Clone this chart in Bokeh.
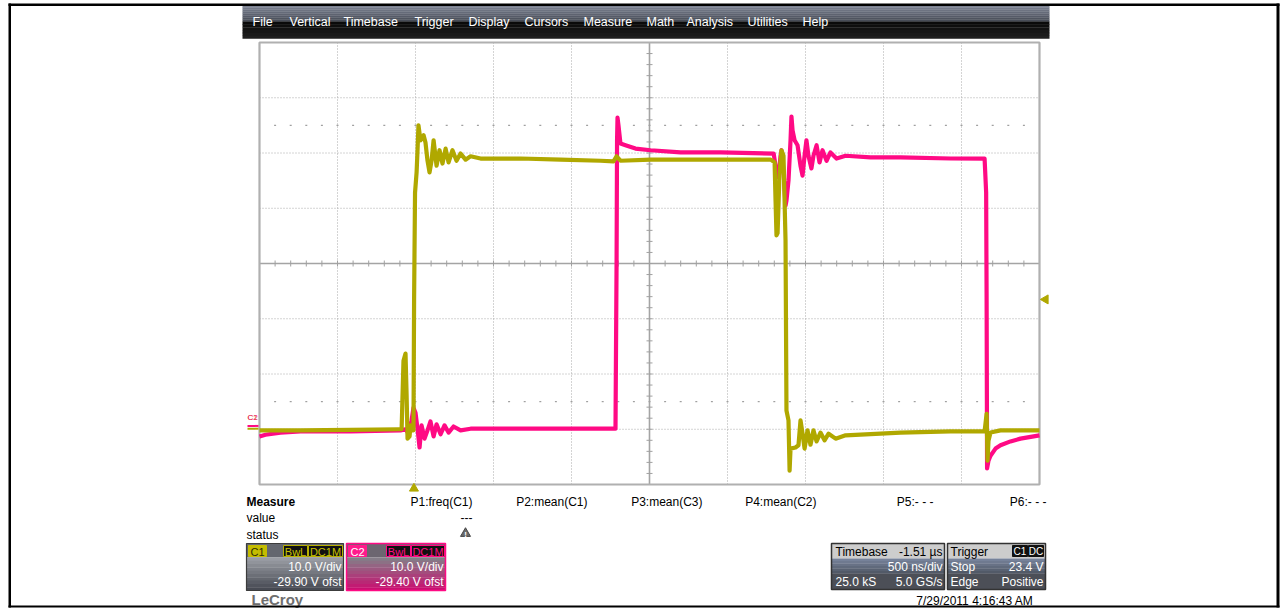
import math
from bokeh.plotting import figure
from bokeh.models import Range1d
from bokeh.embed import file_html
from bokeh.resources import INLINE
from bokeh.core.properties import value

# ---------------- data ----------------
# C1 (yellow) trace: time in ns relative to trigger, volts
C1_TIME_NS = [-990, -727, -406, -99, -79, -67, -54, -47, -41, -28,
              -22, -12, -3, 1, 7, 17, 23, 29, 42, 62,
              74, 87, 100, 113, 126, 145, 164, 183, 203, 222,
              247, 273, 299, 331, 363, 427, 683, 940, 1196, 1279,
              1299, 1324, 1517, 1838, 2287, 2312, 2318, 2324, 2331, 2343,
              2356, 2369, 2382, 2388, 2401, 2408, 2414, 2446, 2465, 2478,
              2491, 2504, 2523, 2542, 2561, 2581, 2606, 2632, 2658, 2703,
              2767, 2927, 3119, 3440, 3658, 3671, 3677, 3683, 3696, 3760,
              4010]
C1_VOLTS = [-0.3, -0.3, -0.2, -0.1, -0.1, 12.3, 13.6, 6.0, -1.8, -1.4,
            0.6, -0.3, -0.3, 23.4, 42.7, 46.4, 50.4, 54.9, 52.2, 53.1,
            51.8, 48.5, 46.4, 48.5, 52.2, 47.6, 50.4, 48.0, 50.7, 48.2,
            50.4, 48.5, 49.8, 48.7, 49.3, 48.9, 48.9, 48.7, 48.5, 48.4,
            49.3, 48.5, 48.7, 48.7, 48.7, 48.2, 41.3, 35.0, 35.4, 45.8,
            50.4, 49.4, 34.1, 3.3, 1.5, -7.6, -3.6, -3.4, -3.0, 1.5,
            -0.9, -3.6, -0.3, -2.9, -0.3, -2.3, -0.7, -2.1, -0.9, -1.8,
            -1.2, -1.0, -0.7, -0.5, -0.5, 2.7, -5.8, -2.2, -0.7, -0.3,
            -0.3]

# C2 (magenta) trace
C2_TIME_NS = [-990, -952, -856, -727, -406, -86, -54, -35, -15, -3,
              10, 23, 36, 49, 68, 87, 106, 126, 145, 171,
              196, 222, 254, 299, 363, 683, 1068, 1279, 1292, 1299,
              1302, 1305, 1311, 1324, 1356, 1420, 1517, 1709, 1966, 2306,
              2318, 2337, 2350, 2356, 2369, 2382, 2388, 2401, 2414, 2420,
              2427, 2440, 2459, 2478, 2491, 2504, 2516, 2529, 2548, 2561,
              2581, 2600, 2619, 2645, 2670, 2709, 2767, 2927, 3119, 3440,
              3658, 3668, 3671, 3674, 3683, 3696, 3728, 3760, 3824, 3888,
              4010]
C2_VOLTS = [-1.9, -1.6, -1.2, -1.0, -1.0, -0.8, -0.6, -1.4, 1.0, 3.3,
            2.4, -0.5, -3.9, 0.1, -2.3, -0.8, 0.8, -1.9, 0.3, -1.5,
            0.1, -1.2, -0.1, -0.8, -0.5, -0.5, -0.5, -0.5, -0.5, 29.9,
            51.7, 55.8, 54.4, 51.1, 50.8, 50.2, 49.9, 49.5, 49.5, 49.3,
            47.1, 45.0, 48.9, 49.9, 46.2, 39.9, 40.8, 44.4, 51.7, 56.0,
            53.5, 51.7, 50.8, 47.1, 45.3, 48.9, 51.7, 48.9, 46.6, 48.9,
            50.8, 47.7, 49.9, 48.0, 49.5, 48.4, 48.9, 48.6, 48.6, 48.4,
            48.4, 42.3, 22.7, -7.7, -6.3, -5.4, -4.1, -3.5, -2.8, -2.3,
            -1.7]

MENU_ITEMS = ["File", "Vertical", "Timebase", "Trigger", "Display", "Cursors",
              "Measure", "Math", "Analysis", "Utilities", "Help"]
MEASURE_PARAMS = ["P1:freq(C1)", "P2:mean(C1)", "P3:mean(C3)", "P4:mean(C2)",
                  "P5:- - -", "P6:- - -"]
MEASURE_ROWS = ["value", "status"]

TIMEBASE_NS_PER_DIV = 500.0
TRIGGER_DELAY_NS = -1510.0
TRIGGER_LEVEL_V = 23.4
C1_V_PER_DIV, C1_OFFSET_V = 10.0, -29.90
C2_V_PER_DIV, C2_OFFSET_V = 10.0, -29.40

C1_TEXT = ["10.0 V/div", "-29.90 V ofst"]
C2_TEXT = ["10.0 V/div", "-29.40 V ofst"]
TIMEBASE_TEXT = ["Timebase", "-1.51 µs", "500 ns/div", "25.0 kS", "5.0 GS/s"]
TRIGGER_TEXT = ["Trigger", "Stop", "23.4 V", "Edge", "Positive"]
TIMESTAMP = "7/29/2011 4:16:43 AM"

# ---------------- layout (picture pixels) ----------------
W, H = 1280, 608
PX0, PY0 = 0, 0
GX0, GX1, GY0, GY1 = 259.0, 1039.0, 42.0, 484.0
DX = (GX1 - GX0) / 10.0
DY = (GY1 - GY0) / 8.0
GXC, GYC = (GX0 + GX1) / 2, (GY0 + GY1) / 2

FONT = value("Liberation Sans")
YEL = "#B0A800"
PINK = "#FF0A84"

p = figure(width=W, height=H, output_backend="svg", toolbar_location=None,
           x_axis_type=None, y_axis_type=None, min_border=0,
           x_range=Range1d(PX0, PX0 + W), y_range=Range1d(PY0 + H, PY0))
p.outline_line_color = None
p.background_fill_color = "white"
p.border_fill_color = "white"

# time / voltage scales mapped onto the graticule
ns_per_px = TIMEBASE_NS_PER_DIV / DX
t_center = -TRIGGER_DELAY_NS
p.extra_x_ranges = {"t": Range1d(t_center + (PX0 - GXC) * ns_per_px,
                                 t_center + (PX0 + W - GXC) * ns_per_px)}
def vrange(vdiv, ofs):
    vpp = vdiv / DY
    c = -ofs
    return Range1d(c - (PY0 + H - GYC) * vpp, c + (GYC - PY0) * vpp)
p.extra_y_ranges = {"c1": vrange(C1_V_PER_DIV, C1_OFFSET_V),
                    "c2": vrange(C2_V_PER_DIV, C2_OFFSET_V)}


def hexmix(c0, c1, f):
    a = [int(c0[i:i + 2], 16) for i in (1, 3, 5)]
    b = [int(c1[i:i + 2], 16) for i in (1, 3, 5)]
    return "#%02x%02x%02x" % tuple(int(round(a[k] + (b[k] - a[k]) * f)) for k in range(3))


def vgrad(x0, x1, y0, y1, c0, c1, n=10):
    h = (y1 - y0) / n
    tops = [y0 + i * h for i in range(n)]
    p.quad(left=[x0] * n, right=[x1] * n, top=tops, bottom=[t + h + 0.3 for t in tops],
           fill_color=[hexmix(c0, c1, i / max(n - 1, 1)) for i in range(n)], line_color=None)


def txt(xs, ys, texts, color="black", size="12px", align="left", style="normal"):
    p.text(x=xs, y=ys, text=texts, text_font=FONT, text_font_size=size,
           text_color=color, text_align=align, text_baseline="middle", text_font_style=style)


# ---------------- menu bar ----------------
vgrad(242, 1049, 5, 21, "#7c8292", "#474c57", 8)
vgrad(242, 1049, 21, 38, "#0a0a0a", "#1f1f1f", 6)
txt([252, 289, 343, 414, 468, 524, 583, 646, 686, 747, 802], [21] * 11, MENU_ITEMS,
    color="white", size="12.5px")

# ---------------- graticule ----------------
vx = [GX0 + i * DX for i in range(1, 10) if i != 5]
p.segment(x0=vx, x1=vx, y0=[GY0] * len(vx), y1=[GY1] * len(vx),
          line_color="#a8a8a8", line_width=1, line_dash="1 2")
hy = [GY0 + j * DY for j in range(1, 8) if j != 4]
p.segment(x0=[GX0] * len(hy), x1=[GX1] * len(hy), y0=hy, y1=hy,
          line_color="#a8a8a8", line_width=1, line_dash="1 2")
# centre cross
p.segment(x0=[GXC, GX0], x1=[GXC, GX1], y0=[GY0, GYC], y1=[GY1, GYC],
          line_color="#a4a4a4", line_width=1.6)
tx = [GX0 + k * DX / 5 for k in range(1, 50)]
p.segment(x0=tx, x1=tx, y0=[GYC - 3] * len(tx), y1=[GYC + 3] * len(tx),
          line_color="#a0a0a0", line_width=1)
ty = [GY0 + k * DY / 5 for k in range(1, 40)]
p.segment(x0=[GXC - 3] * len(ty), x1=[GXC + 3] * len(ty), y0=ty, y1=ty,
          line_color="#a0a0a0", line_width=1)
# dotted rows at +/- 2.5 div
for yy in (GYC - 2.5 * DY, GYC + 2.5 * DY):
    p.segment(x0=[x - 1 for x in tx], x1=[x + 1 for x in tx], y0=[yy] * len(tx), y1=[yy] * len(tx),
              line_color="#a0a0a0", line_width=1.2)
# border
p.quad(left=[GX0], right=[GX1], top=[GY0], bottom=[GY1], fill_color=None,
       line_color="#b0b0b0", line_width=2.2)

# ---------------- traces ----------------
p.line(C2_TIME_NS, C2_VOLTS, x_range_name="t", y_range_name="c2",
       line_color=PINK, line_width=4.2, line_join="round")
p.line(C1_TIME_NS, C1_VOLTS, x_range_name="t", y_range_name="c1",
       line_color=YEL, line_width=4.2, line_join="round")

# ground markers at left
p.segment(x0=[247], x1=[258], y0=[0], y1=[0], y_range_name="c2", line_color=PINK, line_width=2)
p.segment(x0=[247], x1=[258], y0=[0], y1=[0], y_range_name="c1", line_color=YEL, line_width=2)
txt([247], [417], ["C1"], color=YEL, size="8px")
txt([247], [417], ["C2"], color=PINK, size="8px")
# trigger position & level markers
p.scatter(x=[0], y=[GY1 + 4], x_range_name="t", marker="triangle", size=9,
          fill_color=YEL, line_color=YEL)
p.scatter(x=[GX1 + 6], y=[TRIGGER_LEVEL_V], y_range_name="c1", marker="triangle",
          angle=math.pi / 2, size=9, fill_color=YEL, line_color=YEL)

# ---------------- measure table ----------------
txt([246], [501], ["Measure"], style="bold")
txt([246, 246], [517, 534], MEASURE_ROWS)
txt([472, 587, 702, 816, 933, 1046], [501] * 6, MEASURE_PARAMS, align="right")
txt([472], [517], ["---"], align="right")
p.scatter(x=[465], y=[533], marker="triangle", size=10, fill_color="#6a6a6a", line_color="#444444")
txt([465], [534], ["!"], color="white", size="8px", align="center", style="bold")

# ---------------- channel panels ----------------
def badge(x0, x1, y0, y1, label, fill, line, tcolor, size="11px"):
    p.quad(left=[x0], right=[x1], top=[y0], bottom=[y1], fill_color=fill, line_color=line, line_width=1)
    txt([(x0 + x1) / 2], [(y0 + y1) / 2 + 0.5], [label], color=tcolor, size=size, align="center")

# C1
p.quad(left=[246], right=[343], top=[543], bottom=[557], fill_color="#64676f", line_color=None)
vgrad(246, 343, 557, 590, "#9a9da4", "#474a53", 10)
p.quad(left=[246], right=[343], top=[543], bottom=[590], fill_color=None, line_color="#3c3c3c", line_width=1.2)
badge(248, 266, 545, 556, "C1", "#c4bc00", "#c4bc00", "#2e2c00")
badge(283, 307, 545, 556, "BwL", "#111111", "#b8b000", "#c8c000")
badge(308, 342, 545, 556, "DC1M", "#111111", "#b8b000", "#c8c000")
txt([341, 341], [566, 581], C1_TEXT, color="white", align="right")

# C2
p.quad(left=[346], right=[445], top=[543], bottom=[557], fill_color="#6c6670", line_color=None)
vgrad(346, 445, 557, 590, "#857d88", "#c81070", 10)
p.quad(left=[346], right=[445], top=[543], bottom=[590], fill_color=None, line_color=PINK, line_width=1.5)
badge(348, 366, 545, 556, "C2", "#ff1a8c", "#ff1a8c", "#ffffff")
badge(386, 410, 545, 556, "BwL", "#111111", PINK, PINK)
badge(411, 444, 545, 556, "DC1M", "#111111", PINK, PINK)
txt([443, 443], [566, 581], C2_TEXT, color="white", align="right")

# Timebase panel
p.quad(left=[831], right=[944], top=[543], bottom=[558], fill_color="#cdcdcd", line_color=None)
vgrad(831, 944, 558, 573, "#76829a", "#525a68", 6)
p.quad(left=[831], right=[944], top=[573], bottom=[589], fill_color="#4c4f57", line_color=None)
p.quad(left=[831], right=[944], top=[543], bottom=[589], fill_color=None, line_color="#333333", line_width=1.5)
txt([835, 942], [551, 551], TIMEBASE_TEXT[0:2], color="black", align=["left", "right"])
txt([942], [566], TIMEBASE_TEXT[2:3], color="white", align="right")
txt([835, 942], [581, 581], TIMEBASE_TEXT[3:5], color="white", align=["left", "right"])

# Trigger panel
p.quad(left=[947], right=[1045], top=[543], bottom=[558], fill_color="#cdcdcd", line_color=None)
vgrad(947, 1045, 558, 573, "#76829a", "#525a68", 6)
p.quad(left=[947], right=[1045], top=[573], bottom=[589], fill_color="#4c4f57", line_color=None)
p.quad(left=[947], right=[1045], top=[543], bottom=[589], fill_color=None, line_color="#333333", line_width=1.5)
txt([950], [551], TRIGGER_TEXT[0:1], color="black")
badge(1012, 1027, 545, 556, "C1", "#111111", "#111111", "white", "10px")
badge(1028, 1043, 545, 556, "DC", "#111111", "#111111", "white", "10px")
txt([950, 1043], [566, 566], TRIGGER_TEXT[1:3], color="white", align=["left", "right"])
txt([950, 1043], [581, 581], TRIGGER_TEXT[3:5], color="white", align=["left", "right"])

# footer
txt([251], [599], ["LeCroy"], color="#6e6e6e", size="15px", style="bold")
txt([1033], [600], [TIMESTAMP], align="right")

# outer black frame of the screenshot
p.quad(left=[8, 1276, 8, 8], right=[10.5, 1279, 1279, 1279],
       top=[3, 3, 3, 605], bottom=[607, 607, 5.5, 607],
       fill_color="black", line_color=None)

open("out.html", "w").write(file_html(p, INLINE))
